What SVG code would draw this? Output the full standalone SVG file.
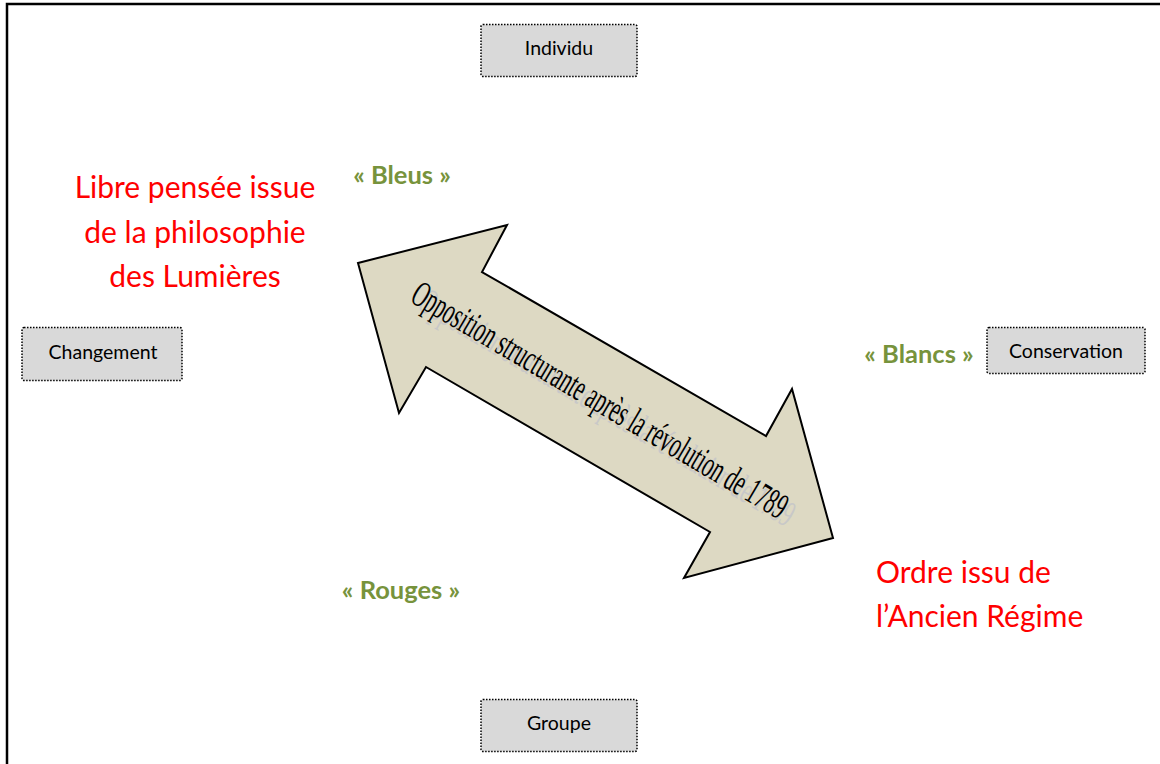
<svg xmlns="http://www.w3.org/2000/svg" width="1160" height="764" viewBox="0 0 1160 764">
<style>
.box{fill:#d9d9d9;stroke:#000;stroke-width:1.5;stroke-dasharray:1.5 1.5}
.bt{font-family:Lato,"Liberation Sans",sans-serif;font-size:19.5px;fill:#000;text-anchor:middle}
.red{font-family:Lato,"Liberation Sans",sans-serif;font-size:30px;fill:#ff0000}
.grn{font-family:Lato,"Liberation Sans",sans-serif;font-size:25.5px;font-weight:bold;fill:#77933c;text-anchor:middle}
.arr{fill:#ddd9c3;stroke:#000;stroke-width:2;stroke-linejoin:miter}
.at{font-family:"Liberation Serif",serif;font-size:37px;text-anchor:middle}
</style>
<rect x="0" y="0" width="1160" height="764" fill="#fff"/>
<path d="M7,764 V4 H1160" fill="none" stroke="#000" stroke-width="2.5"/>
<g id="node-individu"><rect class="box" x="481" y="24.5" width="156" height="52" rx="2"/><text class="bt" x="559" y="55">Individu</text></g>
<g id="node-changement"><rect class="box" x="22" y="327.5" width="160" height="53" rx="2"/><text class="bt" x="103" y="359">Changement</text></g>
<g id="node-conservation"><rect class="box" x="987" y="327.5" width="158" height="46" rx="2"/><text class="bt" x="1066" y="358">Conservation</text></g>
<g id="node-groupe"><rect class="box" x="481" y="699.5" width="156" height="52" rx="2"/><text class="bt" x="559" y="730">Groupe</text></g>
<g id="label-libre"><text class="red" text-anchor="middle"><tspan x="195" y="198">Libre pensée issue</tspan><tspan x="195" y="243">de la philosophie</tspan><tspan x="195" y="287">des Lumières</tspan></text></g>
<g id="label-ordre"><text class="red"><tspan x="876" y="583">Ordre issu de</tspan><tspan x="876" y="627">l’Ancien Régime</tspan></text></g>
<g id="label-bleus"><text class="grn" x="402" y="184">« Bleus »</text></g>
<g id="label-blancs"><text class="grn" x="919" y="363">« Blancs »</text></g>
<g id="label-rouges"><text class="grn" x="401" y="599">« Rouges »</text></g>
<g id="connectors">
<polygon class="arr" points="358,263 507,225 482,272 766,436 792,389 833,538 684,578 710,532 426,367 399,413"/>
<g transform="rotate(30.6 600 400)">
<text class="at" x="610" y="415" fill="#c8c8c8" textLength="430" lengthAdjust="spacingAndGlyphs">Opposition structurante après la révolution de 1789</text>
<text class="at" x="600" y="412" fill="#000" textLength="430" lengthAdjust="spacingAndGlyphs">Opposition structurante après la révolution de 1789</text>
</g>
</g>
</svg>
